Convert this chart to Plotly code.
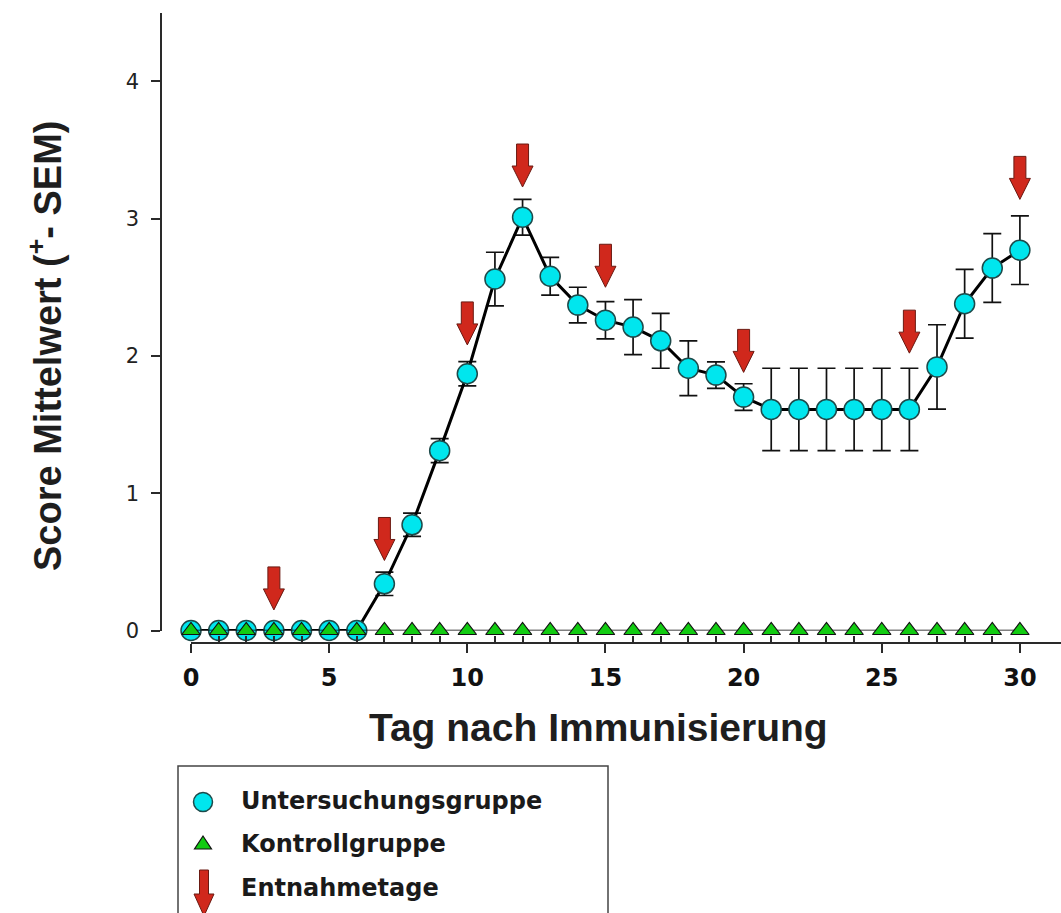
import plotly.graph_objects as go

# ---------------- data ----------------
days = list(range(31))
unters_mean = [0, 0, 0, 0, 0, 0, 0, 0.34, 0.77, 1.31, 1.87, 2.56, 3.01, 2.58, 2.37, 2.26,
               2.21, 2.11, 1.91, 1.86, 1.70, 1.61, 1.61, 1.61, 1.61, 1.61, 1.61, 1.92, 2.38, 2.64, 2.77]
unters_sem = [0, 0, 0, 0, 0, 0, 0, 0.085, 0.085, 0.088, 0.088, 0.195, 0.13, 0.137, 0.13, 0.136,
              0.20, 0.20, 0.20, 0.097, 0.097, 0.30, 0.30, 0.30, 0.30, 0.30, 0.30, 0.307, 0.25, 0.25, 0.25]
kontroll_mean = [0.0] * 31
entnahme_days = [3, 7, 10, 12, 15, 20, 26, 30]
entnahme_tip = [0.15, 0.51, 2.08, 3.23, 2.50, 1.88, 2.02, 3.14]
x_ticks = [0, 5, 10, 15, 20, 25, 30]
x_minor = [d for d in range(1, 30) if d % 5]
y_ticks = [0, 1, 2, 3, 4]

legend_labels = ["Untersuchungsgruppe", "Kontrollgruppe", "Entnahmetage"]
x_title = "Tag nach Immunisierung"
y_title = "Score Mittelwert (<sup>+</sup>- SEM)"

# ---------------- layout geometry ----------------
W, H = 1061, 913
ML, MR, MT, MB = 161, 0, 13, 270
PW, PH = W - ML - MR, H - MT - MB


def px_x(px):
    return (px - ML) / PW


def px_y(py):
    return (H - MB - py) / PH


CYAN = "#00E6EE"
GREEN = "#12CC12"
RED = "#D0281C"
AXC = "#2a2a2a"


def arrow_path(shaft_half, head_half, head_len, total_len):
    return (f"M 0 0 L {-head_half} {head_len} L {-shaft_half} {head_len} "
            f"L {-shaft_half} {total_len} L {shaft_half} {total_len} "
            f"L {shaft_half} {head_len} L {head_half} {head_len} Z")


fig = go.Figure()

fig.add_trace(go.Scatter(
    x=days, y=unters_mean, mode="lines+markers", name=legend_labels[0],
    line=dict(color="#000000", width=3),
    marker=dict(symbol="circle", size=20, color=CYAN, line=dict(color="#1d4a4a", width=1.5)),
    error_y=dict(type="data", array=unters_sem, visible=True, color="#111111", thickness=1.7, width=9),
    cliponaxis=False, showlegend=False,
))
fig.add_trace(go.Scatter(
    x=days, y=kontroll_mean, mode="lines+markers", name=legend_labels[1],
    line=dict(color="#000000", width=1.5),
    marker=dict(symbol="triangle-up", size=16, color=GREEN, line=dict(color="#111111", width=1.2)),
    cliponaxis=False, showlegend=False,
))

shapes = []
for d, t in zip(entnahme_days, entnahme_tip):
    shapes.append(dict(
        type="path", xref="x", yref="y", xsizemode="pixel", ysizemode="pixel",
        xanchor=d, yanchor=t, path=arrow_path(6, 10.5, 21, 43),
        fillcolor=RED, line=dict(color="#6a1a12", width=1), layer="above",
    ))

# legend box and icons
shapes.append(dict(type="rect", xref="paper", yref="paper",
                   x0=px_x(178), x1=px_x(608), y0=px_y(940), y1=px_y(766),
                   line=dict(color="#444444", width=1.5), fillcolor="rgba(0,0,0,0)"))
shapes.append(dict(type="circle", xref="paper", yref="paper", xsizemode="pixel", ysizemode="pixel",
                   xanchor=px_x(203), yanchor=px_y(802), x0=-9.5, x1=9.5, y0=-9.5, y1=9.5,
                   fillcolor=CYAN, line=dict(color="#1d4a4a", width=1.5)))
shapes.append(dict(type="path", xref="paper", yref="paper", xsizemode="pixel", ysizemode="pixel",
                   xanchor=px_x(203), yanchor=px_y(843), path="M -8.5 -6 L 8.5 -6 L 0 7 Z",
                   fillcolor=GREEN, line=dict(color="#111111", width=1.2)))
shapes.append(dict(type="path", xref="paper", yref="paper", xsizemode="pixel", ysizemode="pixel",
                   xanchor=px_x(204), yanchor=px_y(916), path=arrow_path(4.5, 10, 22, 46),
                   fillcolor=RED, line=dict(color="#6a1a12", width=1)))

annotations = []
for lab, py in zip(legend_labels, [801, 844, 888]):
    annotations.append(dict(text=lab, xref="paper", yref="paper", x=px_x(239), y=px_y(py),
                            xanchor="left", yanchor="middle", showarrow=False,
                            font=dict(family="DejaVu Sans", size=24, weight="bold", color="#1a1a1a")))
annotations.append(dict(text=x_title, xref="paper", yref="paper", x=px_x(598), y=px_y(727),
                        xanchor="center", yanchor="middle", showarrow=False,
                        font=dict(family="Liberation Sans", size=39, weight="bold", color="#1e1e1e")))
annotations.append(dict(text=y_title, xref="paper", yref="paper", x=px_x(45), y=px_y(346),
                        xanchor="center", yanchor="middle", showarrow=False, textangle=-90,
                        font=dict(family="Liberation Sans", size=38, weight="bold", color="#1e1e1e")))

fig.update_layout(
    width=W, height=H,
    margin=dict(l=ML, r=MR, t=MT, b=MB, pad=0),
    paper_bgcolor="white", plot_bgcolor="white",
    showlegend=False,
    shapes=shapes, annotations=annotations,
    xaxis=dict(
        domain=[px_x(191), 1], range=[0, (W - 191) / 27.63],
        anchor="free", position=0,
        showline=True, linecolor=AXC, linewidth=1.5,
        ticks="outside", ticklen=9, tickwidth=1.5, tickcolor=AXC,
        tickmode="array", tickvals=x_ticks, ticktext=[str(v) for v in x_ticks],
        ticklabelstandoff=4,
        tickfont=dict(family="DejaVu Sans", size=24, weight="bold", color="#111111"),
        minor=dict(tickmode="array", tickvals=x_minor, ticks="inside", ticklen=6,
                   tickwidth=1.5, tickcolor=AXC, showgrid=False),
        showgrid=False, zeroline=False,
    ),
    yaxis=dict(
        domain=[px_y(630.5), 1], range=[0, (630.5 - 13) / 137.3],
        anchor="free", position=0,
        showline=True, linecolor=AXC, linewidth=1.5,
        ticks="outside", ticklen=9, tickwidth=1.5, tickcolor=AXC,
        tickmode="array", tickvals=y_ticks, ticktext=[str(v) for v in y_ticks],
        ticklabelstandoff=8,
        tickfont=dict(family="DejaVu Sans", size=21, color="#222222"),
        showgrid=False, zeroline=False,
    ),
)

fig.write_html("out.html")
